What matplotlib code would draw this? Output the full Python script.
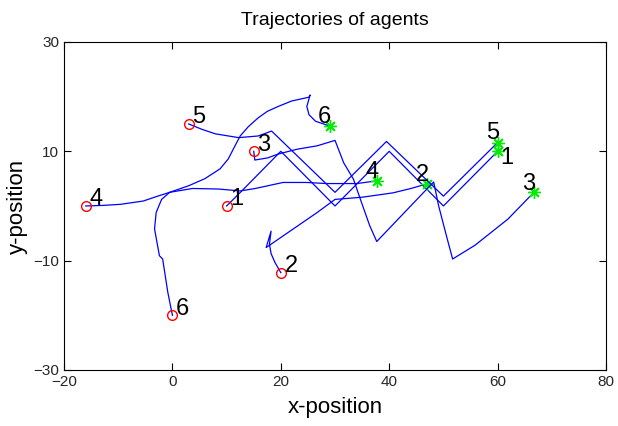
import matplotlib
matplotlib.use('Agg')
import matplotlib.pyplot as plt
from matplotlib import font_manager

# trajectories (x, y) for each agent
agent1_x = [10, 12.8, 20, 30, 40, 50, 60]
agent1_y = [0, 2.75, 10, 0, 10, 0, 10]

agent2_x = [20, 18.9, 18.2, 17.9, 18.2, 17.3, 26.7, 30, 35, 40.7, 44, 46.1, 47]
agent2_y = [-12.2, -10.3, -8.7, -7.0, -4.6, -7.6, -1.2, 1.2, 1.6, 2.4, 3.2, 3.8, 4]

agent3_x = [15, 15.2, 17.6, 19.5, 23.1, 26.7, 30, 31.6, 33.4, 34.9, 36.4, 37.7,
            48.2, 49.1, 50.7, 51.7, 55.8, 61.9, 66.7]
agent3_y = [10, 8.4, 8.8, 9.5, 10.4, 11, 12, 7.9, 4.9, 0.6, -3.6, -6.5,
            4.4, 0.1, -6, -9.7, -7.2, -2.4, 2.5]

agent4_x = [-16, -12.9, -9.6, -5.4, -2.7, -0.5, 3.7, 8.5, 12.5, 15.3, 20.4, 24.7, 28.5, 34, 37.8]
agent4_y = [0, 0.1, 0.3, 0.9, 1.8, 2.5, 3.2, 3.1, 2.75, 3.2, 4.3, 4.3, 4.1, 4.1, 4.6]

agent5_x = [3, 5.5, 7.9, 12.2, 15.8, 18.3, 30, 39.5, 50, 60]
agent5_y = [15, 14, 13.2, 12.5, 12.8, 13.7, 2.5, 11.8, 1.8, 11.6]

agent6_x = [0, -0.85, -1.8, -2.4, -3.3, -3, -2, -0.5, 3.0, 6.0, 8.8, 10.3, 11.7, 12.5, 14.0,
            15.8, 17.5, 19.5, 22.0, 25.2, 25.4, 24.8, 25.2, 26.4, 28.2, 29]
agent6_y = [-20, -15.8, -9.7, -9.1, -4.2, -1.2, 1.2, 2.5, 3.7, 5.0, 6.8, 8.6, 11.3, 12.8, 14.5,
            16.1, 17.3, 18.2, 19.2, 19.9, 20.3, 18.2, 16.7, 15.5, 14.9, 14.6]

agents_x = [agent1_x, agent2_x, agent3_x, agent4_x, agent5_x, agent6_x]
agents_y = [agent1_y, agent2_y, agent3_y, agent4_y, agent5_y, agent6_y]
labels = ['1', '2', '3', '4', '5', '6']

# label offsets (dx, dy, ha) for start and end points
start_offsets = [(0.7, 1.2, 'left')] * 6
end_offsets = [(0.5, -1.3, 'left'), (0.3, 1.6, 'right'), (0.3, 1.6, 'right'),
               (0.3, 1.6, 'right'), (0.3, 1.7, 'right'), (0.3, 1.7, 'right')]

plt.rcParams['font.family'] = ['Liberation Sans', 'DejaVu Sans']
names = [f.name for f in font_manager.fontManager.ttflist]
tick_font = 'Liberation Sans Narrow' if 'Liberation Sans Narrow' in names else 'Liberation Sans'

fig = plt.figure(figsize=(6.18, 4.26), dpi=100)
ax = fig.add_axes([0.1036, 0.1315, 0.877, 0.77])

for i in range(6):
    xs, ys = agents_x[i], agents_y[i]
    ax.plot(xs, ys, color='blue', linewidth=0.9)
    ax.plot(xs[0], ys[0], 'o', markerfacecolor='none', markeredgecolor='red',
            markersize=7, markeredgewidth=1)
    ax.plot(xs[-1], ys[-1], marker=(8, 2, 0), color='#00ee00', markersize=9,
            markeredgewidth=1.0)
    dx, dy, ha = start_offsets[i]
    ax.text(xs[0] + dx, ys[0] + dy, labels[i], fontsize=17, ha=ha, va='center')
    dx, dy, ha = end_offsets[i]
    ax.text(xs[-1] + dx, ys[-1] + dy, labels[i], fontsize=17, ha=ha, va='center')

ax.set_xlim(-20, 80)
ax.set_ylim(-30, 30)
ax.set_xticks([-20, 0, 20, 40, 60, 80])
ax.set_yticks([-30, -10, 10, 30])
ax.tick_params(direction='in', top=True, right=True, length=5, labelsize=11,
               labelcolor='#262626')
for lab in ax.get_xticklabels() + ax.get_yticklabels():
    lab.set_fontfamily(tick_font)
for s in ax.spines.values():
    s.set_linewidth(0.8)

ax.set_title('Trajectories of agents', fontsize=14, pad=12)
ax.set_xlabel('x-position', fontsize=16, labelpad=6)
ax.set_ylabel('y-position', fontsize=16, labelpad=4)

fig.savefig('out.png', dpi=100)
